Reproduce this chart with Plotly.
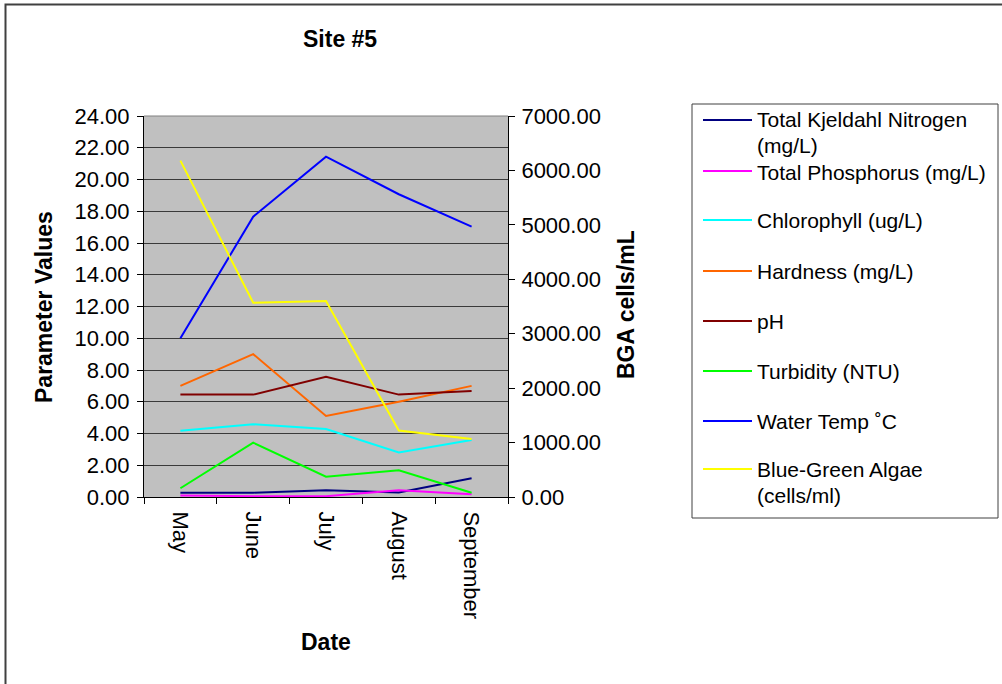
import plotly.graph_objects as go

# ---- data ----
months = ["May", "June", "July", "August", "September"]
tkn = [0.27, 0.27, 0.42, 0.28, 1.18]
tp = [0.10, 0.05, 0.05, 0.42, 0.17]
chlorophyll = [4.18, 4.58, 4.28, 2.81, 3.59]
hardness = [7.0, 9.0, 5.1, 6.0, 7.0]
ph = [6.45, 6.45, 7.58, 6.45, 6.68]
turbidity = [0.55, 3.42, 1.28, 1.68, 0.27]
water_temp = [10.0, 17.66, 21.44, 19.07, 17.03]
bga = [6180, 3570, 3600, 1220, 1065]

series_names = [
    "Total Kjeldahl Nitrogen (mg/L)",
    "Total Phosphorus (mg/L)",
    "Chlorophyll (ug/L)",
    "Hardness (mg/L)",
    "pH",
    "Turbidity (NTU)",
    "Water Temp \u02daC",
    "Blue-Green Algae (cells/ml)",
]
legend_lines = [
    ["Total Kjeldahl Nitrogen", "(mg/L)"],
    ["Total Phosphorus (mg/L)"],
    ["Chlorophyll (ug/L)"],
    ["Hardness (mg/L)"],
    ["pH"],
    ["Turbidity (NTU)"],
    ["Water Temp \u02daC"],
    ["Blue-Green Algae", "(cells/ml)"],
]
series_colors = ["#000080", "#FF00FF", "#00FFFF", "#FF6600", "#800000", "#00FF00", "#0000FF", "#FFFF00"]
left_series = [tkn, tp, chlorophyll, hardness, ph, turbidity, water_temp]

# ---- layout geometry (pixels) ----
W, H = 1002, 684
PL, PR, PT, PB = 144, 508, 116, 497


def px(x):
    return (x - PL) / (PR - PL)


def py(y):
    return (PB - y) / (PB - PT)


FONT = "Liberation Sans, Arial, sans-serif"

fig = go.Figure()
for vals, name, col in zip(left_series, series_names[:7], series_colors[:7]):
    fig.add_trace(go.Scatter(x=months, y=vals, mode="lines", name=name,
                             line=dict(color=col, width=2), yaxis="y"))
fig.add_trace(go.Scatter(x=months, y=bga, mode="lines", name=series_names[7],
                         line=dict(color=series_colors[7], width=2), yaxis="y2"))

tickfont = dict(family=FONT, size=22, color="black")

fig.update_layout(
    width=W, height=H,
    margin=dict(l=PL, r=W - PR, t=PT, b=H - PB, pad=0),
    paper_bgcolor="white",
    plot_bgcolor="#C0C0C0",
    showlegend=False,
    xaxis=dict(
        type="category", range=[-0.5, 4.5], tickson="boundaries",
        ticks="outside", ticklen=6, tickcolor="black", tickwidth=1,
        tickangle=90, tickfont=tickfont, ticklabelstandoff=9,
        showline=True, linecolor="black", linewidth=1, showgrid=False,
        zeroline=False, fixedrange=True,
    ),
    yaxis=dict(
        range=[0, 24], dtick=2, tick0=0, tickformat=".2f",
        ticks="outside", ticklen=6, tickcolor="black", tickwidth=1,
        tickfont=tickfont, ticklabelstandoff=3,
        showline=True, linecolor="black", linewidth=1,
        showgrid=True, gridcolor="#3a3a3a", gridwidth=1, zeroline=False,
    ),
    yaxis2=dict(
        range=[0, 7000], dtick=1000, tick0=0, tickformat=".2f",
        overlaying="y", side="right",
        ticks="outside", ticklen=6, tickcolor="black", tickwidth=1,
        tickfont=tickfont, ticklabelstandoff=2,
        showline=True, linecolor="black", linewidth=1,
        showgrid=False, zeroline=False,
    ),
)

shapes = []
annotations = []

# outer chart border
shapes.append(dict(type="rect", xref="paper", yref="paper",
                   x0=px(5.5), x1=px(1010), y0=py(690), y1=py(4.5),
                   line=dict(color="#404040", width=2), fillcolor="rgba(0,0,0,0)", layer="below"))
# top plot border
shapes.append(dict(type="line", xref="paper", yref="paper", x0=0, x1=1, y0=1, y1=1,
                   line=dict(color="#808080", width=1)))

# titles
annotations.append(dict(text="<b>Site #5</b>", xref="paper", yref="paper", x=px(340), y=py(39),
                        showarrow=False, xanchor="center", yanchor="middle",
                        font=dict(family=FONT, size=23, color="black")))
annotations.append(dict(text="<b>Date</b>", xref="paper", yref="paper", x=px(326), y=py(642),
                        showarrow=False, xanchor="center", yanchor="middle",
                        font=dict(family=FONT, size=23, color="black")))
annotations.append(dict(text="<b>Parameter Values</b>", xref="paper", yref="paper", x=px(44), y=py(307),
                        showarrow=False, xanchor="center", yanchor="middle", textangle=-90,
                        font=dict(family=FONT, size=23, color="black")))
annotations.append(dict(text="<b>BGA cells/mL</b>", xref="paper", yref="paper", x=px(626), y=py(305),
                        showarrow=False, xanchor="center", yanchor="middle", textangle=-90,
                        font=dict(family=FONT, size=23, color="black")))

# legend (drawn box)
shapes.append(dict(type="rect", xref="paper", yref="paper",
                   x0=px(692), x1=px(998), y0=py(518), y1=py(104),
                   line=dict(color="#404040", width=1), fillcolor="white"))
legend_y = [120, 171, 220, 271, 321, 371, 421, 469]
text_y = [[119, 145], [172], [220], [271], [321], [371], [421], [469, 495]]
for lines, col, ly, tys in zip(legend_lines, series_colors, legend_y, text_y):
    shapes.append(dict(type="line", xref="paper", yref="paper",
                       x0=px(703), x1=px(752), y0=py(ly), y1=py(ly),
                       line=dict(color=col, width=2)))
    for txt, ty in zip(lines, tys):
        annotations.append(dict(text=txt, xref="paper", yref="paper", x=px(756), y=py(ty),
                                showarrow=False, xanchor="left", yanchor="middle", align="left",
                                borderpad=0,
                                font=dict(family=FONT, size=21, color="black")))

fig.update_layout(shapes=shapes, annotations=annotations)
fig.write_html("out.html", config={"displayModeBar": False},
               post_script="document.body.style.margin='0';document.body.style.overflow='hidden';")
